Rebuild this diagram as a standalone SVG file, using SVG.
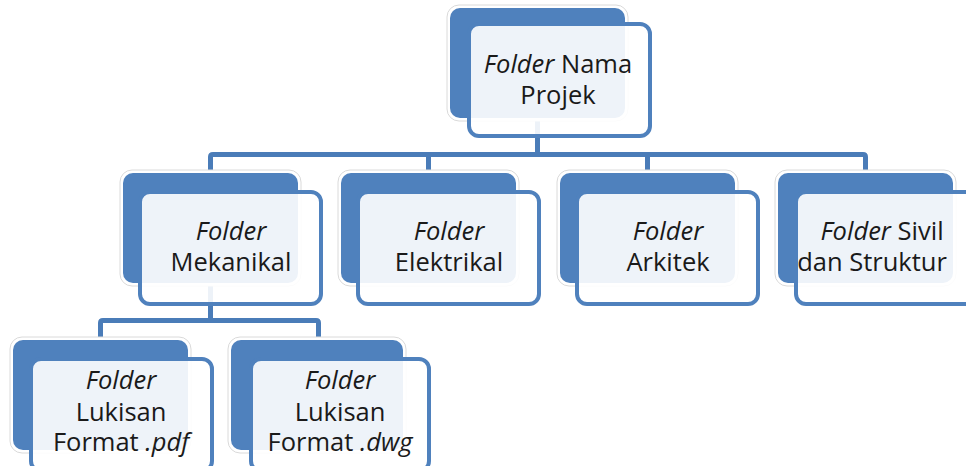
<svg xmlns="http://www.w3.org/2000/svg" width="966" height="466" viewBox="0 0 966 466">
<defs>
<style>
.glow{fill:#ffffff;stroke:#dadada;stroke-width:1}
.back{fill:#4f81bd}
.front{fill:#ffffff;fill-opacity:0.9;stroke:#4f81bd;stroke-width:4}
.conn{fill:none;stroke:#4a7cb8;stroke-width:5;stroke-linejoin:round}
text{font-family:"Open Sans","Noto Sans","Liberation Sans",sans-serif;font-size:25.5px;fill:#1a1a1a;text-anchor:middle}
.i{font-style:italic}
</style>
</defs>
<rect width="966" height="466" fill="#ffffff"/>
<g id="connectors">
<path class="conn" d="M537.5 118 V154.5 M210.5 170 V157 Q210.5 154.5 213 154.5 H863 Q865.5 154.5 865.5 157 V170 M428.5 154.5 V170 M647.5 154.5 V170"/>
<path class="conn" d="M210.5 283 V320.5 M100.5 337 V323 Q100.5 320.5 103 320.5 H316 Q318.5 320.5 318.5 323 V337"/>
</g>
<g id="node-top">
<rect class="glow" x="447" y="5" width="181" height="116" rx="12"/>
<rect class="back" x="450" y="8" width="175" height="110" rx="10"/>
<rect class="front" x="469" y="24" width="181" height="112" rx="10"/>
<text x="558" y="73"><tspan class="i">Folder</tspan> Nama</text>
<text x="558" y="104">Projek</text>
</g>
<g id="node-mekanikal">
<rect class="glow" x="120" y="170" width="181" height="116" rx="12"/>
<rect class="back" x="123" y="173" width="175" height="110" rx="10"/>
<rect class="front" x="140" y="192" width="181" height="112" rx="10"/>
<text x="231" y="240" class="i">Folder</text>
<text x="231" y="271">Mekanikal</text>
</g>
<g id="node-elektrikal">
<rect class="glow" x="338" y="170" width="181" height="116" rx="12"/>
<rect class="back" x="341" y="173" width="175" height="110" rx="10"/>
<rect class="front" x="358" y="192" width="181" height="112" rx="10"/>
<text x="449" y="240" class="i">Folder</text>
<text x="449" y="271">Elektrikal</text>
</g>
<g id="node-arkitek">
<rect class="glow" x="557" y="170" width="181" height="116" rx="12"/>
<rect class="back" x="560" y="173" width="175" height="110" rx="10"/>
<rect class="front" x="577" y="192" width="181" height="112" rx="10"/>
<text x="668" y="240" class="i">Folder</text>
<text x="668" y="271">Arkitek</text>
</g>
<g id="node-sivil">
<rect class="glow" x="775" y="170" width="181" height="116" rx="12"/>
<rect class="back" x="778" y="173" width="175" height="110" rx="10"/>
<rect class="front" x="796" y="192" width="181" height="112" rx="10"/>
<text x="882" y="240"><tspan class="i">Folder</tspan> Sivil</text>
<text x="872" y="271">dan Struktur</text>
</g>
<g id="node-pdf">
<rect class="glow" x="10" y="337" width="181" height="116" rx="12"/>
<rect class="back" x="13" y="340" width="175" height="110" rx="10"/>
<rect class="front" x="31" y="359" width="181" height="112" rx="10"/>
<text x="121" y="389" class="i">Folder</text>
<text x="121" y="421">Lukisan</text>
<text x="121" y="451">Format <tspan class="i">.pdf</tspan></text>
</g>
<g id="node-dwg">
<rect class="glow" x="228" y="337" width="178" height="116" rx="12"/>
<rect class="back" x="231" y="340" width="172" height="110" rx="10"/>
<rect class="front" x="251" y="359" width="178" height="112" rx="10"/>
<text x="340" y="389" class="i">Folder</text>
<text x="340" y="421">Lukisan</text>
<text x="340" y="451">Format <tspan class="i">.dwg</tspan></text>
</g>
</svg>
